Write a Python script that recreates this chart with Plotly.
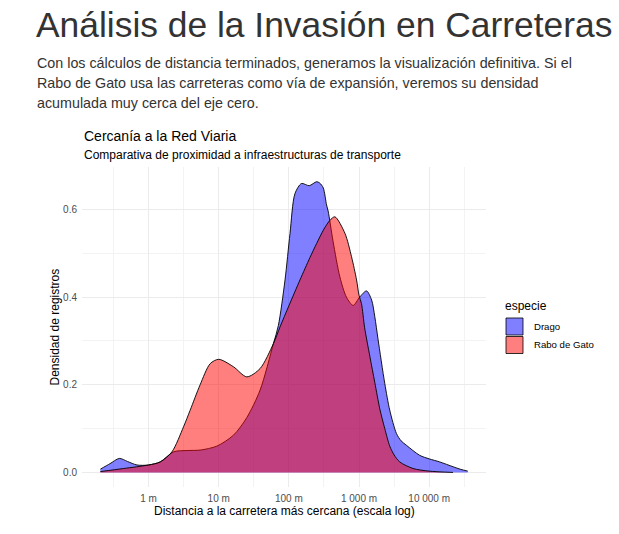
import numpy as np
import plotly.graph_objects as go

# ---- data (x = log10 of distance in metres) ----
drago_log10 = [-0.687, -0.55, -0.417, -0.3, -0.165, 0.0, 0.166, 0.356, 0.55, 0.735, 0.973,
               1.21, 1.40, 1.59, 1.78, 1.85, 1.945, 2.016, 2.087, 2.18, 2.29, 2.395, 2.44,
               2.49, 2.537, 2.56, 2.63, 2.727, 2.82, 2.916, 3.01, 3.107, 3.18, 3.225, 3.27,
               3.367, 3.438, 3.533, 3.6, 3.675, 3.865, 4.0, 4.15, 4.34, 4.45, 4.55]
drago_density = [0.0075, 0.02, 0.032, 0.025, 0.017, 0.017, 0.024, 0.047, 0.05, 0.051, 0.06,
                 0.085, 0.125, 0.188, 0.294, 0.335, 0.439, 0.545, 0.636, 0.659, 0.654, 0.663, 0.66,
                 0.649, 0.61, 0.596, 0.527, 0.446, 0.4, 0.381, 0.4, 0.414, 0.393, 0.355, 0.305,
                 0.203, 0.142, 0.089, 0.072, 0.062, 0.039, 0.031, 0.024, 0.013, 0.007, 0.003]

rabo_log10 = [-0.687, -0.355, 0.0, 0.166, 0.333, 0.498, 0.593, 0.735, 0.878, 1.0, 1.21, 1.40,
              1.59, 1.78, 1.874, 2.0, 2.158, 2.3, 2.395, 2.5, 2.585, 2.656, 2.8, 2.893, 2.965,
              3.0, 3.035, 3.08, 3.154, 3.225, 3.296, 3.367, 3.438, 3.5, 3.58, 3.77, 4.0, 4.34]
rabo_density = [0.002, 0.009, 0.017, 0.024, 0.047, 0.104, 0.142, 0.2, 0.248, 0.258, 0.241, 0.218,
                0.237, 0.294, 0.332, 0.38, 0.439, 0.49, 0.522, 0.555, 0.575, 0.583, 0.545, 0.492,
                0.439, 0.404, 0.385, 0.33, 0.265, 0.205, 0.145, 0.1, 0.06, 0.04, 0.024, 0.009,
                0.003, 0.0]

species = ["Drago", "Rabo de Gato"]
fill_colors = ["rgba(0,0,255,0.5)", "rgba(255,0,0,0.5)"]

x_tickvals = [1, 10, 100, 1000, 10000]
x_ticktext = ["1 m", "10 m", "100 m", "1 000 m", "10 000 m"]
y_tickvals = [0.0, 0.2, 0.4, 0.6]
y_ticktext = ["0.0", "0.2", "0.4", "0.6"]

FONT = "Liberation Sans, Arial, Helvetica, sans-serif"

fig = go.Figure()
for name, lx, dens, col in [(species[0], drago_log10, drago_density, fill_colors[0]),
                            (species[1], rabo_log10, rabo_density, fill_colors[1])]:
    fig.add_trace(go.Scatter(
        x=10 ** np.array(lx), y=dens, mode="lines", name=name,
        line=dict(color="black", width=0.9, shape="spline", smoothing=0.8),
        fill="tozeroy", fillcolor=col, showlegend=False, hoverinfo="skip"))

fig.update_layout(
    width=619, height=534,
    margin=dict(l=82, r=133, t=167, b=47),
    paper_bgcolor="white", plot_bgcolor="white",
    font=dict(family=FONT, color="#333333"),
    xaxis=dict(type="log", range=[-0.949, 4.81], tickvals=x_tickvals, ticktext=x_ticktext,
               showgrid=True, gridcolor="#ebebeb", gridwidth=1, zeroline=False,
               showline=False, ticks="", tickfont=dict(size=10, color="#4d4d4d", family=FONT),
               ticklabelstandoff=4,
               minor=dict(tickvals=[10 ** (k + 0.5) for k in range(-1, 5)],
                          showgrid=True, gridcolor="#f3f3f3", gridwidth=0.6, ticks="")),
    yaxis=dict(range=[-0.0332, 0.6966], tickvals=y_tickvals, ticktext=y_ticktext,
               showgrid=True, gridcolor="#ebebeb", gridwidth=1, zeroline=False,
               showline=False, ticks="", tickfont=dict(size=10, color="#4d4d4d", family=FONT),
               ticklabelstandoff=4,
               minor=dict(tickvals=[0.1, 0.3, 0.5], showgrid=True, gridcolor="#f3f3f3",
                          gridwidth=0.6, ticks="")),
)

ann = []
def txt(text, x, y, size, color="#333333", xanchor="left", yanchor="middle", angle=0):
    ann.append(dict(text=text, x=x, y=y, xref="paper", yref="paper", showarrow=False,
                    xanchor=xanchor, yanchor=yanchor, textangle=angle,
                    font=dict(size=size, color=color, family=FONT)))

PW, PH = 619 - 82 - 133, 534 - 167 - 47
def px(xp):
    return (xp - 82) / PW
def py(yp):
    return (534 - 47 - yp) / PH

# page header
txt("Análisis de la Invasión en Carreteras", px(34), py(25), 35.4)
txt("Con los cálculos de distancia terminados, generamos la visualización definitiva. Si el",
    px(35), py(63.5), 14.3)
txt("Rabo de Gato usa las carreteras como vía de expansión, veremos su densidad",
    px(35), py(83.5), 14.3)
txt("acumulada muy cerca del eje cero.", px(35), py(103.5), 14.3)

# chart title / subtitle
txt("Cercanía a la Red Viaria", px(82), py(136), 14, color="#000000")
txt("Comparativa de proximidad a infraestructuras de transporte", px(82), py(155), 12,
    color="#000000")

# axis titles
txt("Distancia a la carretera más cercana (escala log)", px(284.5), py(511), 12,
    color="#000000", xanchor="center")
txt("Densidad de registros", px(54.5), py(327), 12, color="#000000", xanchor="center",
    angle=-90)

# legend
txt("especie", px(503), py(306), 12, color="#000000")
legend_rows = [(318, 326.7), (336.5, 344.3)]
for (top, yc), name, col in zip(legend_rows, species, fill_colors):
    fig.add_shape(type="rect", xref="paper", yref="paper",
                  x0=px(506), x1=px(523), y0=py(top + 17), y1=py(top),
                  fillcolor=col, line=dict(color="black", width=0.8))
    txt(name, px(531.5), py(yc), 9.6, color="#000000")

fig.update_layout(annotations=ann)
fig.write_html("out.html")
